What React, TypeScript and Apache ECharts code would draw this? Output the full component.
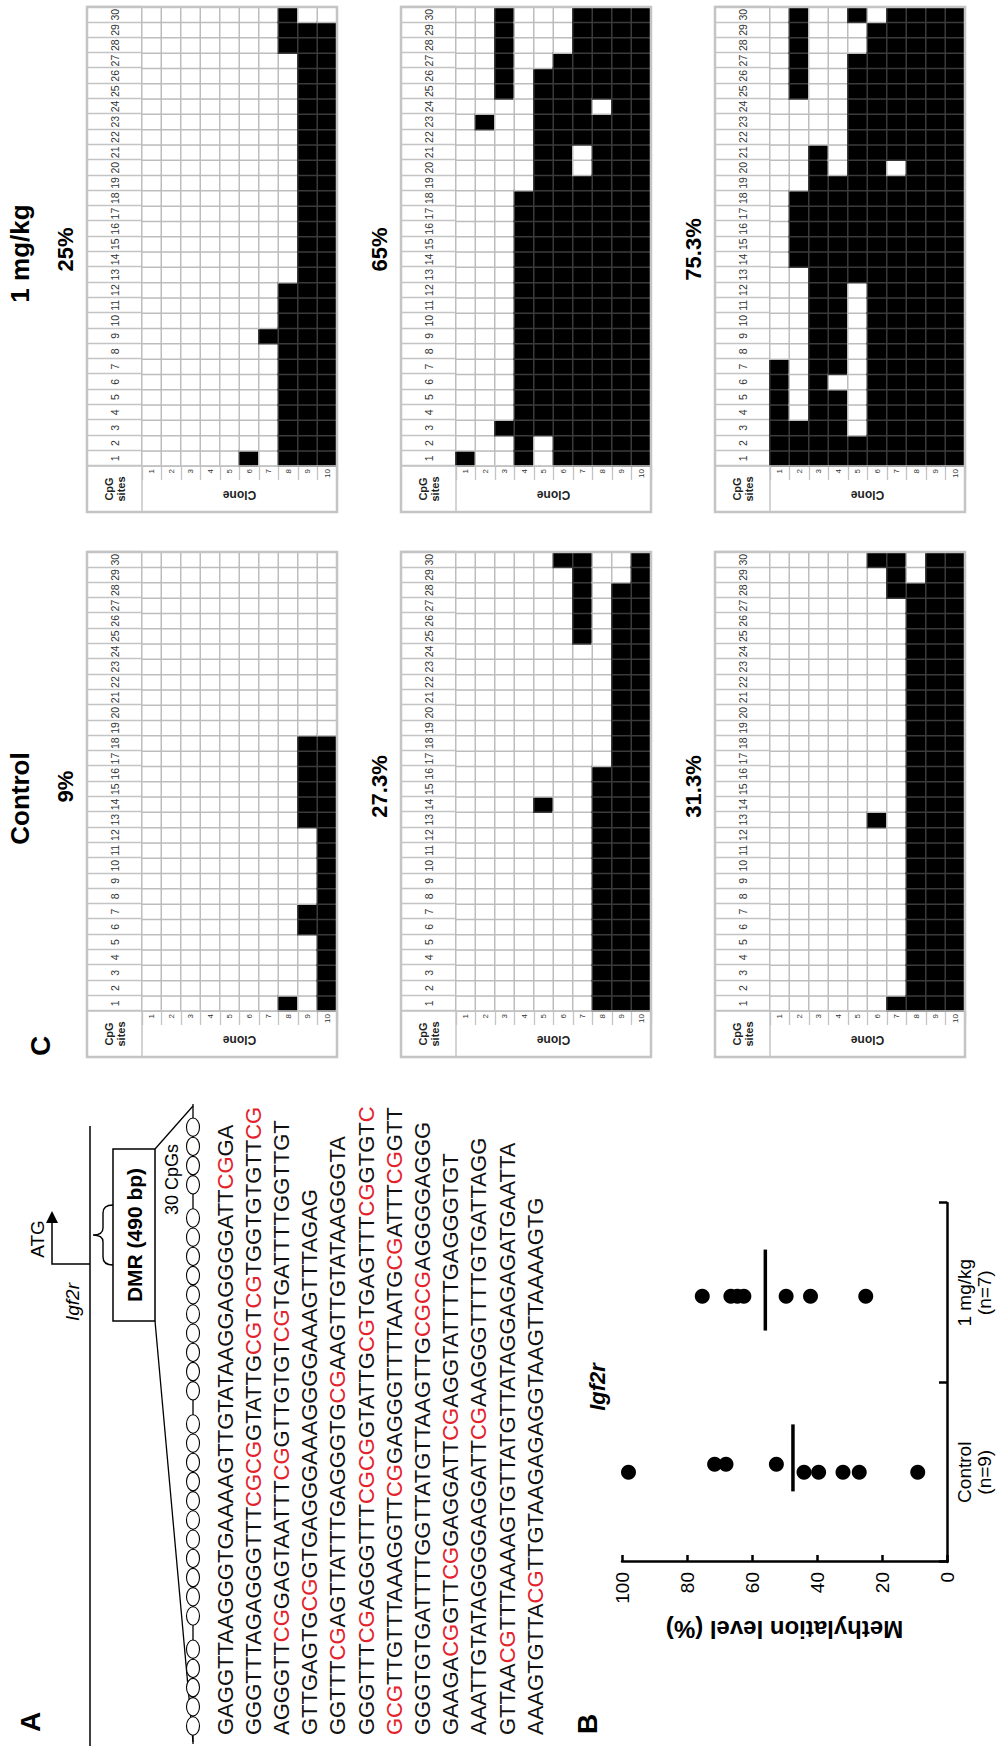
import React, { useEffect, useRef } from "react";
import * as echarts from "echarts";

// ---------------- DATA ----------------
const siteLabels = ["1","2","3","4","5","6","7","8","9","10","11","12","13","14","15","16","17","18","19","20","21","22","23","24","25","26","27","28","29","30"];
const cloneLabels = ["1","2","3","4","5","6","7","8","9","10"];

// methylated CpG site runs [from, to] per clone (clone 1 .. clone 10)
const ctrl9Runs = [[], [], [], [], [], [], [], [[1, 1]], [[6, 7], [13, 18]], [[1, 18]]];
const ctrl273Runs = [[], [], [], [], [[14, 14]], [[30, 30]], [[25, 30]], [[1, 16]], [[1, 28]], [[1, 30]]];
const ctrl313Runs = [[], [], [], [], [], [[13, 13], [30, 30]], [[1, 1], [28, 30]], [[1, 28]], [[1, 30]], [[1, 30]]];
const mg25Runs = [[], [], [], [], [], [[1, 1]], [[9, 9]], [[1, 12], [28, 30]], [[1, 29]], [[1, 29]]];
const mg65Runs = [[[1, 1]], [[23, 23]], [[3, 3], [25, 30]], [[1, 18]], [[3, 26]], [[1, 27]], [[1, 19], [22, 30]], [[1, 23], [25, 30]], [[1, 30]], [[1, 30]]];
const mg753Runs = [[[1, 7]], [[1, 3], [14, 18], [25, 30]], [[1, 21]], [[1, 5], [7, 19]], [[1, 2], [13, 27], [30, 30]], [[1, 29]], [[1, 19], [21, 30]], [[1, 30]], [[1, 30]], [[1, 30]]];

const controlPct = ["9%", "27.3%", "31.3%"];
const treatedPct = ["25%", "65%", "75.3%"];
const groupTitles = ["Control", "1 mg/kg"];

const seqLines = [
  "GAGGTTAAGGGTGAAAAGTTGTATAAGGAGGGGATTCGGA",
  "GGGTTTAGAGGGTTTCGCGGTATTGCGTCGTGGTGTGTTCG",
  "AGGGTTCGGAGTAATTTCGGTTGTGTCGTGATTTTGGTTGT",
  "GTTGAGTGCGGTGAGGGAAAGGGGAAAGTTTAGAG",
  "GGTTTCGAGTTATTTGAGGGTGCGAAGTTGTATAAGGGTA",
  "GGGTTTCGAGGGTTTCGCGGTATTGCGTGAGTTTCGGTGTC",
  "GCGTTGTTTAAAGGTTCGGAGGGTTTTAATGCGATTTCGGTT",
  "GGGTGTGATTTTGGTTATGTTAAGTTGCGCGAGGGGAGGG",
  "GAAGACGGTTCGGAGGATTCGAGGTATTTTGAGGGTGT",
  "AAATTGTATAGGGGAGGATTCGAAGGGTTTTGTGATTAGG",
  "GTTAACGTTTAAAAGTGTTATGTTATAGGAGAGATGAATTA",
  "AAAGTGTTACGTTGTAAGAGAGGTAAGTTAAAAGTG",
];
const cpgGroups = [5, 11, 10, 4];

const bCategories = ["Control\n(n=9)", "1 mg/kg\n(n=7)"];
const controlValues = [98, 71.5, 68, 52.5, 44, 39.5, 32, 27, 9];
const controlJitter = [0, 0.045, 0.045, 0.045, 0, 0, 0, 0, 0];
const treatedValues = [75.3, 66.5, 64.5, 62.5, 49.5, 42, 25];
const treatedJitter = [-0.02, -0.02, -0.02, -0.02, -0.02, -0.02, -0.02];
const groupMeans = [47.4, 55.9];

// ---------------- LAYOUT (unrotated frame 1746 x 1000) ----------------
const W = 1746, H = 1000;
const FF = "'Liberation Sans', Arial, Helvetica, sans-serif";
const blockX = [689, 1234];
const rowTop = [87, 401, 715];
const HDR_W = 46, LBL_H = 55, SITE_W = 15.3, CLONE_H = 19.5;

function txt(x: number, y: number, text: string, size: number, opts: any = {}) {
  const align = opts.align || "center";
  return {
    type: "text", x, y, rotation: opts.rotation || 0, silent: true, z: 10,
    style: {
      text, fontSize: size, fontFamily: opts.family || FF, fontWeight: opts.weight || "normal",
      fontStyle: opts.italic ? "italic" : "normal", fill: opts.color || "#000",
      align, textAlign: align, verticalAlign: "middle", textVerticalAlign: "middle",
      lineHeight: opts.lineHeight,
    },
  };
}
function line(x1: number, y1: number, x2: number, y2: number, w = 1.5, color = "#000") {
  return { type: "line", silent: true, z: 5, shape: { x1, y1, x2, y2 }, style: { stroke: color, lineWidth: w } };
}

function buildOption() {
  const grid: any[] = [], xAxis: any[] = [], yAxis: any[] = [], series: any[] = [], graphic: any[] = [];
  const tables = [
    { runs: ctrl9Runs, pct: controlPct[0], col: 0, row: 0 },
    { runs: ctrl273Runs, pct: controlPct[1], col: 0, row: 1 },
    { runs: ctrl313Runs, pct: controlPct[2], col: 0, row: 2 },
    { runs: mg25Runs, pct: treatedPct[0], col: 1, row: 0 },
    { runs: mg65Runs, pct: treatedPct[1], col: 1, row: 1 },
    { runs: mg753Runs, pct: treatedPct[2], col: 1, row: 2 },
  ];
  tables.forEach((t, i) => {
    const bx = blockX[t.col], top = rowTop[t.row];
    const gl = bx + HDR_W, gt = top + LBL_H;
    const gw = SITE_W * 30, gh = CLONE_H * 10;
    grid.push({ left: gl, top: gt, width: gw, height: gh, outerBoundsMode: "none" });
    xAxis.push({
      type: "category", gridIndex: i, data: siteLabels, position: "top",
      axisLine: { show: false },
      axisTick: { show: true, length: LBL_H, lineStyle: { color: "#c4c4c4", width: 1.3 } },
      axisLabel: { interval: 0, fontSize: 10.5, color: "#333", margin: 22, fontFamily: "'Liberation Sans Narrow', 'Liberation Sans', Arial" },
      splitLine: { show: false },
    });
    yAxis.push({
      type: "category", gridIndex: i, data: cloneLabels, inverse: true,
      axisLine: { show: false },
      axisTick: { show: true, length: 14, lineStyle: { color: "#c4c4c4", width: 1.3 } },
      axisLabel: { interval: 0, fontSize: 8, color: "#333", margin: 3 },
      splitLine: { show: false },
    });
    const data: any[] = [];
    t.runs.forEach((runs: number[][], c: number) => {
      for (let s = 1; s <= 30; s++) {
        const m = runs.some(([a, b]) => s >= a && s <= b) ? 1 : 0;
        data.push({ value: [s - 1, c, m], itemStyle: { borderColor: m ? "#3a3a3a" : "#bdbdbd" } });
      }
    });
    series.push({
      type: "heatmap", xAxisIndex: i, yAxisIndex: i, data, silent: true, progressive: 0,
      itemStyle: { borderWidth: 1.5 }, emphasis: { disabled: true },
    });
    graphic.push({ type: "rect", silent: true, z: 6, shape: { x: bx, y: top, width: HDR_W + gw, height: LBL_H + gh }, style: { fill: "none", stroke: "#c4c4c4", lineWidth: 2.5 } });
    graphic.push(line(bx, gt, gl, gt, 1.5, "#c4c4c4"));
    graphic.push(line(gl, top, gl, gt + gh, 1.5, "#c4c4c4"));
    graphic.push(txt(bx + HDR_W / 2, top + LBL_H / 2, "CpG\nsites", 11, { weight: "bold", lineHeight: 12, color: "#222" }));
    graphic.push(txt(bx + 17, gt + gh / 2, "Clone", 12, { weight: "bold", rotation: Math.PI / 2, color: "#222" }));
    graphic.push(txt(bx + (HDR_W + gw) / 2 + (t.col === 0 ? 18 : 10), top - 22, t.pct, 22, { weight: "bold" }));
  });
  groupTitles.forEach((g, c) => graphic.push(txt(blockX[c] + (HDR_W + SITE_W * 30) / 2 + 6, 20, g, 26, { weight: "bold" })));

  // ---------- Panel B ----------
  const gi = tables.length;
  grid.push({ left: 184, top: 622, width: 359, height: 325, outerBoundsMode: "none" });
  xAxis.push({
    type: "category", gridIndex: gi, data: bCategories, boundaryGap: true,
    axisLine: { show: true, lineStyle: { color: "#000", width: 2.5 } },
    axisTick: { show: true, inside: true, length: 8, lineStyle: { color: "#000", width: 2.5 } },
    axisLabel: { fontSize: 19, color: "#000", margin: 7, lineHeight: 20 },
    splitLine: { show: false },
  });
  xAxis.push({ type: "value", gridIndex: gi, min: 0, max: 2, show: false });
  yAxis.push({
    type: "value", gridIndex: gi, min: 0, max: 100, interval: 20,
    axisLine: { show: true, lineStyle: { color: "#000", width: 2.5 } },
    axisTick: { show: true, inside: true, length: 7, lineStyle: { color: "#000", width: 2.5 } },
    axisLabel: { fontSize: 19, color: "#000", margin: 10 },
    splitLine: { show: false },
    name: "Methylation level (%)", nameLocation: "middle", nameGap: 55,
    nameTextStyle: { fontSize: 24, fontWeight: "bold", color: "#000" },
  });
  series.push({
    type: "scatter", xAxisIndex: gi + 1, yAxisIndex: gi, symbolSize: 15, silent: true,
    itemStyle: { color: "#000", opacity: 1 },
    data: controlValues.map((v, k) => [0.5 + controlJitter[k], v]),
  });
  series.push({
    type: "scatter", xAxisIndex: gi + 1, yAxisIndex: gi, symbolSize: 15, silent: true,
    itemStyle: { color: "#000", opacity: 1 },
    data: treatedValues.map((v, k) => [1.5 + treatedJitter[k], v]),
  });
  series.push({
    type: "scatter", xAxisIndex: gi + 1, yAxisIndex: gi, symbol: "rect", silent: true,
    itemStyle: { color: "#000", opacity: 1 },
    data: [
      { value: [0.58, groupMeans[0]], symbolSize: [67, 3.5] },
      { value: [1.515, groupMeans[1]], symbolSize: [81, 3.5] },
    ],
  });
  graphic.push(txt(359, 597, "Igf2r", 22, { weight: "bold", italic: true }));

  // ---------- Panel labels ----------
  graphic.push(txt(24, 30, "A", 28, { weight: "bold" }));
  graphic.push(txt(22, 587, "B", 28, { weight: "bold" }));
  graphic.push(txt(700, 40, "C", 28, { weight: "bold" }));

  // ---------- Panel A diagram ----------
  const braceX = 511, stemX = 482;
  graphic.push(line(0, 90, 620, 90, 1.5));
  graphic.push({ type: "polyline", silent: true, z: 5, shape: { points: [[stemX, 90], [stemX, 52], [stemX + 42, 52]] }, style: { stroke: "#000", lineWidth: 1.5, fill: "none" } });
  graphic.push({ type: "polygon", silent: true, z: 5, shape: { points: [[stemX + 53, 52], [stemX + 41, 46], [stemX + 41, 58]] }, style: { fill: "#000" } });
  graphic.push(txt(stemX + 25, 37, "ATG", 19));
  graphic.push(txt(stemX - 38, 72, "Igf2r", 19, { italic: true }));
  graphic.push({ type: "brace", silent: true, z: 5, x: braceX - 30, y: 93, style: { stroke: "#000", fill: "none", lineWidth: 1.4 } });
  const boxW = 172, boxL = braceX - boxW / 2, boxT = 113, boxH = 42;
  graphic.push({ type: "rect", silent: true, z: 5, shape: { x: boxL, y: boxT, width: boxW, height: boxH }, style: { fill: "#fff", stroke: "#000", lineWidth: 1.5 } });
  graphic.push(txt(braceX, boxT + boxH / 2, "DMR (490 bp)", 21, { weight: "bold" }));
  graphic.push(line(boxL, boxT + boxH, 4, 193, 1.3));
  graphic.push(line(boxL + boxW, boxT + boxH, 640, 193, 1.3));
  graphic.push(line(2, 193, 642, 193, 1.3));
  let cx = 20;
  cpgGroups.forEach((n) => {
    for (let k = 0; k < n; k++) {
      graphic.push({ type: "ellipse", silent: true, z: 6, shape: { cx, cy: 193, rx: 9.2, ry: 6.5 }, style: { fill: "#fff", stroke: "#000", lineWidth: 1.1 } });
      cx += 19.2;
    }
    cx += 14;
  });
  graphic.push(txt(602, 172, "30 CpGs", 18, { align: "right" }));

  // sequence with red CpGs
  const all = seqLines.join("");
  const red: boolean[] = [];
  for (let k = 0; k < all.length; k++) red[k] = (all[k] === "C" && all[k + 1] === "G") || (all[k] === "G" && all[k - 1] === "C");
  let off = 0;
  seqLines.forEach((ln, i) => {
    let s = "", buf = "", cur: boolean | null = null;
    for (let j = 0; j < ln.length; j++) {
      const r = red[off + j];
      if (cur === null || r === cur) { buf += ln[j]; cur = r; }
      else { s += `{${cur ? "r" : "k"}|${buf}}`; buf = ln[j]; cur = r; }
    }
    s += `{${cur ? "r" : "k"}|${buf}}`;
    off += ln.length;
    graphic.push({
      type: "text", x: 11, y: 225 + i * 28.2, silent: true, z: 10,
      style: {
        text: s, fontSize: 22, fontFamily: FF, fill: "#111",
        align: "left", textAlign: "left", verticalAlign: "middle", textVerticalAlign: "middle",
        rich: { r: { fill: "#e3232c", fontSize: 22, fontFamily: FF }, k: { fill: "#111", fontSize: 22, fontFamily: FF } },
      },
    });
  });

  return {
    animation: false,
    backgroundColor: "#fff",
    textStyle: { fontFamily: FF },
    visualMap: {
      type: "piecewise", show: false, dimension: 2, seriesIndex: [0, 1, 2, 3, 4, 5],
      pieces: [{ value: 0, color: "#ffffff" }, { value: 1, color: "#000000" }],
    },
    grid, xAxis, yAxis, series, graphic,
  };
}

let braceRegistered = false;
function registerShapes() {
  if (braceRegistered) return;
  const d = "M0,20 Q0,10 8,10 L23,10 Q30,10 30,0 Q30,10 37,10 L52,10 Q60,10 60,20";
  echarts.graphic.registerShape("brace", echarts.graphic.extendPath(d, {}));
  braceRegistered = true;
}

export default function App() {
  const ref = useRef<HTMLDivElement>(null);
  useEffect(() => {
    registerShapes();
    const el = ref.current as HTMLDivElement;
    const chart = echarts.init(el, undefined, { renderer: "svg", width: W, height: H });
    chart.setOption(buildOption() as any);
    return () => chart.dispose();
  }, []);
  return (
    <div style={{ position: "absolute", left: 0, top: 0, width: 1000, height: 1746, overflow: "hidden", background: "#fff" }}>
      <div
        ref={ref}
        style={{
          position: "absolute", left: 0, top: 0, width: W, height: H,
          transformOrigin: "0 0", transform: `translate(0px, ${W}px) rotate(-90deg)`,
        }}
      />
    </div>
  );
}
